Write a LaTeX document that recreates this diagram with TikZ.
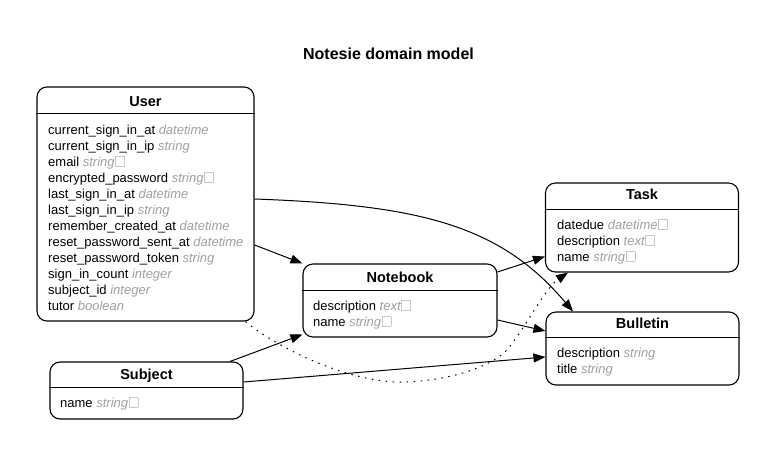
\documentclass[tikz,border=0pt]{standalone}
\usepackage{fontspec}
\setmainfont{Liberation Sans}
\usetikzlibrary{arrows.meta}
\definecolor{typegray}{HTML}{A0A0A0}
\definecolor{keygray}{HTML}{C8C8C8}
\newcommand\keybox{\kern0.5pt{\color{keygray}\setlength\fboxsep{0pt}\setlength\fboxrule{0.9pt}\fbox{\rule{0pt}{9pt}\hspace{8pt}}}}
\newcommand\ty[1]{{\color{typegray}\itshape #1}}
\tikzset{
  box/.style={draw, line width=1.1pt, rounded corners=10pt, inner sep=0pt},
  sepline/.style={line width=1.1pt},
  head/.style={font=\bfseries\fontsize{14.5}{16}\selectfont, anchor=base, inner sep=0pt},
  attr/.style={font=\fontsize{13}{16}\selectfont, anchor=base west, inner sep=0pt},
  titletext/.style={font=\bfseries\fontsize{16}{18}\selectfont, anchor=base, inner sep=0pt},
  rel/.style={line width=1pt, -{Triangle[length=12pt,width=9pt]}},
  dotrel/.style={rel, dash pattern=on 1.5pt off 5.5pt}
}
\begin{document}
\begin{tikzpicture}[x=1pt,y=-1pt]
\fill[white] (0,0) rectangle (778,458);
\useasboundingbox (0,0) rectangle (778,458);

\node[titletext] (title) at (388.5,59) {Notesie domain model};

% User
\node[box, minimum width=217pt, minimum height=234pt] (user) at (145.5,204) {};
\draw[sepline] ([yshift=-27pt]user.north west) -- ([yshift=-27pt]user.north east);
\node[head] (userh) at (145.5,106) {User};
\foreach \t [count=\i from 0] in {
  current\_sign\_in\_at \ty{datetime},
  current\_sign\_in\_ip \ty{string},
  email \ty{string}\keybox,
  encrypted\_password \ty{string}\keybox,
  last\_sign\_in\_at \ty{datetime},
  last\_sign\_in\_ip \ty{string},
  remember\_created\_at \ty{datetime},
  reset\_password\_sent\_at \ty{datetime},
  reset\_password\_token \ty{string},
  sign\_in\_count \ty{integer},
  subject\_id \ty{integer},
  tutor \ty{boolean}}
  \node[attr] (user\i) at (48,134+16*\i) {\t};

% Task
\node[box, minimum width=193pt, minimum height=89pt] (task) at (642,227.5) {};
\draw[sepline] ([yshift=-27pt]task.north west) -- ([yshift=-27pt]task.north east);
\node[head] (taskh) at (642,199) {Task};
\foreach \t [count=\i from 0] in {
  datedue \ty{datetime}\keybox,
  description \ty{text}\keybox,
  name \ty{string}\keybox}
  \node[attr] (task\i) at (557,229+16*\i) {\t};

% Notebook
\node[box, minimum width=194pt, minimum height=73pt] (notebook) at (400,300.5) {};
\draw[sepline] ([yshift=-27pt]notebook.north west) -- ([yshift=-27pt]notebook.north east);
\node[head] (notebookh) at (400,282) {Notebook};
\foreach \t [count=\i from 0] in {
  description \ty{text}\keybox,
  name \ty{string}\keybox}
  \node[attr] (notebook\i) at (313,310+16*\i) {\t};

% Bulletin
\node[box, minimum width=193pt, minimum height=73pt] (bulletin) at (642.5,348.5) {};
\draw[sepline] ([yshift=-26pt]bulletin.north west) -- ([yshift=-26pt]bulletin.north east);
\node[head] (bulletinh) at (642.5,328) {Bulletin};
\foreach \t [count=\i from 0] in {
  description \ty{string},
  title \ty{string}}
  \node[attr] (bulletin\i) at (557,357+16*\i) {\t};

% Subject
\node[box, minimum width=193pt, minimum height=57pt] (subject) at (146.5,390.5) {};
\draw[sepline] ([yshift=-26pt]subject.north west) -- ([yshift=-26pt]subject.north east);
\node[head] (subjecth) at (146.5,379) {Subject};
\node[attr] (subject0) at (60,407) {name \ty{string}\keybox};

% Relations
\draw[rel] ([yshift=-41pt]user.east) -- (notebook.north west);
\draw[rel] ([yshift=5pt]user.east) .. controls (420,205) and (500,225) .. ([xshift=-69.5pt]bulletin.north);
\draw[rel] ([yshift=28.5pt]notebook.east) -- ([yshift=-29pt]task.west);
\draw[rel] ([yshift=-19.5pt]notebook.east) -- ([yshift=17.5pt]bulletin.west);
\draw[rel] ([xshift=83.5pt]subject.north) -- ([yshift=-34pt]notebook.west);
\draw[rel] ([yshift=8.5pt]subject.east) -- ([yshift=-8.5pt]bulletin.west);
\draw[dotrel] ([xshift=-9pt]user.south east) .. controls (280,350) and (350,382) .. (400,382)
  .. controls (440,382) and (485,370) .. (505,352)
  .. controls (522,334) and (545,288) .. ([xshift=-74pt]task.south);
\end{tikzpicture}
\end{document}
